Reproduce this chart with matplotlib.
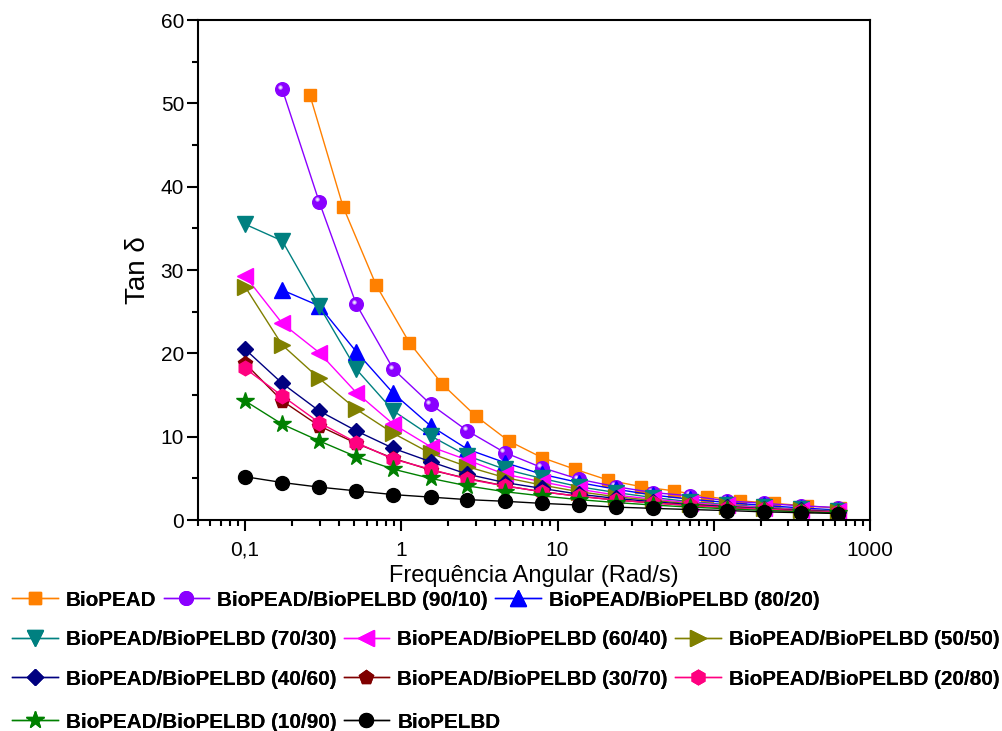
import matplotlib
matplotlib.use("Agg")
import matplotlib.pyplot as plt
from matplotlib.ticker import FixedLocator, FixedFormatter, LogLocator, MultipleLocator, NullFormatter
from matplotlib.transforms import ScaledTranslation

plt.rcParams['font.family'] = ['Liberation Sans', 'DejaVu Sans']

# angular frequency (rad/s)
freq = [0.1, 0.173, 0.298, 0.515, 0.89, 1.54, 2.65, 4.59, 7.92, 13.7,
        23.6, 40.8, 70.5, 122, 210, 363, 628]
freq_pead = [0.26, 0.424, 0.69, 1.125, 1.83, 2.99, 4.86, 7.93, 12.9, 21.0,
             34.3, 55.8, 91, 148, 242, 394, 641]

# tan delta
pead = [51.0, 37.6, 28.2, 21.3, 16.3, 12.5, 9.5, 7.5, 6.1, 4.8, 4.0, 3.5, 2.8, 2.3, 2.0, 1.7, 1.4]
b90_10 = [51.7, 38.2, 25.9, 18.1, 13.9, 10.7, 8.1, 6.3, 4.9, 4.0, 3.3, 2.9, 2.3, 2.0, 1.7, 1.5]
b80_20 = [27.6, 25.7, 20.2, 15.2, 11.3, 8.5, 6.9, 5.5, 4.5, 3.7, 3.0, 2.5, 2.1, 1.75, 1.45, 1.2]
b70_30 = [35.5, 33.5, 25.7, 18.1, 13.1, 10.1, 7.7, 6.1, 5.0, 4.0, 3.3, 2.7, 2.2, 1.85, 1.55, 1.3, 1.1]
b60_40 = [29.3, 23.6, 20.1, 15.3, 11.5, 8.8, 7.2, 5.5, 4.6, 3.7, 3.0, 2.5, 2.1, 1.75, 1.5, 1.25, 1.05]
b50_50 = [28.0, 21.0, 17.0, 13.3, 10.4, 8.0, 6.4, 5.1, 4.2, 3.4, 2.8, 2.35, 1.95, 1.65, 1.4, 1.2, 1.0]
b40_60 = [20.5, 16.4, 13.1, 10.7, 8.6, 7.0, 5.5, 4.5, 3.8, 3.1, 2.6, 2.2, 1.85, 1.6, 1.35, 1.15, 1.0]
b30_70 = [18.8, 14.3, 11.3, 9.2, 7.4, 6.0, 5.0, 4.1, 3.4, 2.85, 2.4, 2.05, 1.75, 1.5, 1.3, 1.1, 0.95]
b20_80 = [18.2, 14.9, 11.7, 9.3, 7.3, 6.1, 4.9, 4.1, 3.4, 2.85, 2.4, 2.05, 1.75, 1.5, 1.3, 1.1, 0.95]
b10_90 = [14.3, 11.5, 9.5, 7.6, 6.1, 5.0, 4.1, 3.4, 2.9, 2.45, 2.1, 1.8, 1.55, 1.35, 1.15, 1.0, 0.85]
pelbd = [5.2, 4.5, 3.95, 3.5, 3.05, 2.75, 2.45, 2.25, 2.0, 1.8, 1.55, 1.4, 1.26, 1.14, 0.98, 0.88, 0.78]

labels = ['BioPEAD', 'BioPEAD/BioPELBD (90/10)', 'BioPEAD/BioPELBD (80/20)',
          'BioPEAD/BioPELBD (70/30)', 'BioPEAD/BioPELBD (60/40)', 'BioPEAD/BioPELBD (50/50)',
          'BioPEAD/BioPELBD (40/60)', 'BioPEAD/BioPELBD (30/70)', 'BioPEAD/BioPELBD (20/80)',
          'BioPEAD/BioPELBD (10/90)', 'BioPELBD']

series = [
    (freq_pead, pead, '#FF8000', 's', 8.0),
    (freq[1:], b90_10, '#8A00FF', 'o', 9.8),
    (freq[1:], b80_20, '#0000FF', '^', 11.5),
    (freq, b70_30, '#008080', 'v', 11.5),
    (freq, b60_40, '#FF00FF', '<', 11.5),
    (freq, b50_50, '#808000', '>', 11.5),
    (freq, b40_60, '#000080', 'D', 8),
    (freq, b30_70, '#800000', 'p', 10.5),
    (freq, b20_80, '#FF0080', 'h', 10.5),
    (freq, b10_90, '#008000', '*', 13),
    (freq, pelbd, '#000000', 'o', 10),
]

fig = plt.figure(figsize=(10.02, 7.31), dpi=100)
ax = fig.add_axes([0.1976, 0.2886, 0.6707, 0.6840])

handles = []
for (x, y, c, m, ms), lab in zip(series, labels):
    h, = ax.plot(x, y, color=c, marker=m, markersize=ms, lw=1.0,
                 markeredgecolor=c, label=lab)
    handles.append(h)
    if lab.endswith('(90/10)'):
        # sphere highlight
        off = ax.transData + ScaledTranslation(-1.8 / 72, 1.8 / 72, fig.dpi_scale_trans)
        ax.plot(x, y, ls='none', marker='o', markersize=3.2, color='#C99BFF',
                markeredgewidth=0, transform=off)
        ax.plot(x, y, ls='none', marker='o', markersize=1.6, color='#F4ECFF',
                markeredgewidth=0, transform=off)

ax.set_xscale('log')
ax.set_xlim(0.05, 1000)
ax.set_ylim(0, 60)

ax.xaxis.set_major_locator(FixedLocator([0.1, 1, 10, 100, 1000]))
ax.xaxis.set_major_formatter(FixedFormatter(['0,1', '1', '10', '100', '1000']))
ax.xaxis.set_minor_locator(LogLocator(base=10, subs=range(2, 10)))
ax.xaxis.set_minor_formatter(NullFormatter())
ax.yaxis.set_major_locator(MultipleLocator(10))
ax.yaxis.set_minor_locator(MultipleLocator(5))

ax.tick_params(which='major', direction='out', length=8, width=1.5, labelsize=15)
ax.tick_params(which='minor', direction='out', length=4.5, width=1.5)
ax.tick_params(axis='x', which='major', pad=7)
ax.tick_params(axis='y', which='major', pad=2)
for s in ax.spines.values():
    s.set_linewidth(1.5)

ax.set_xlabel('Frequência Angular (Rad/s)', fontsize=17, labelpad=4)
ax.set_ylabel('Tan δ', fontsize=20, labelpad=7)

rows = [[0, 1, 2], [3, 4, 5], [6, 7, 8], [9, 10]]
row_y = [0.179, 0.1245, 0.071, 0.0123]
for idx, yy in zip(rows, row_y):
    leg = fig.legend([handles[i] for i in idx], [labels[i] for i in idx],
                     loc='center left', bbox_to_anchor=(0.012, yy), ncol=len(idx),
                     frameon=False, borderpad=0, borderaxespad=0,
                     handlelength=2.2, handletextpad=0.4, columnspacing=0.35,
                     prop={'weight': 'bold', 'size': 14.9})
    fig.add_artist(leg)

fig.savefig('out.png', dpi=100)
